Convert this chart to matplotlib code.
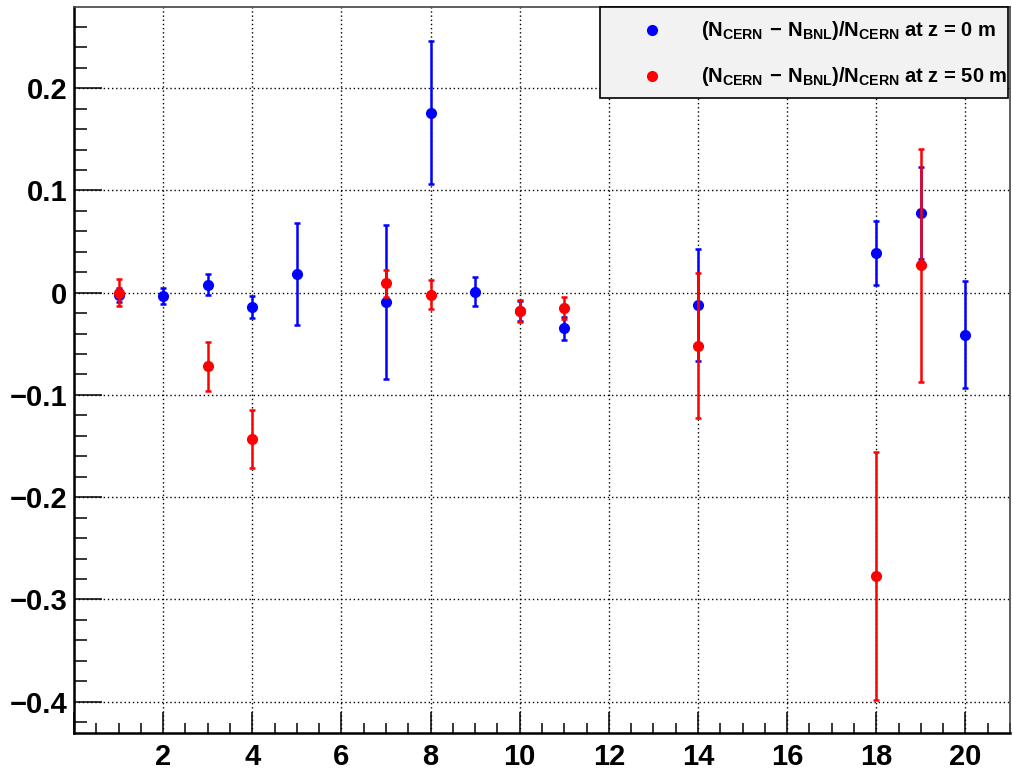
import matplotlib
matplotlib.use("Agg")
import matplotlib.pyplot as plt
from matplotlib.ticker import MultipleLocator
from matplotlib.patches import Rectangle

# ---- data ----
blue_x = [1, 2, 3, 4, 5, 7, 8, 9, 10, 11, 14, 18, 19, 20]
blue_y = [-0.002, -0.003, 0.008, -0.014, 0.018, -0.009, 0.176, 0.001, -0.018, -0.035, -0.012, 0.039, 0.078, -0.041]
blue_err = [0.007, 0.008, 0.010, 0.011, 0.050, 0.075, 0.070, 0.014, 0.010, 0.011, 0.055, 0.031, 0.045, 0.052]

red_x = [1, 3, 4, 7, 8, 10, 11, 14, 18, 19]
red_y = [0.0, -0.072, -0.143, 0.009, -0.002, -0.018, -0.015, -0.052, -0.277, 0.027]
red_err = [0.013, 0.024, 0.028, 0.013, 0.014, 0.011, 0.011, 0.071, 0.121, 0.114]

label_blue = r"$(N_{CERN}\,-\,N_{BNL})/N_{CERN}$ at z = 0 m"
label_red = r"$(N_{CERN}\,-\,N_{BNL})/N_{CERN}$ at z = 50 m"

plt.rcParams["font.family"] = ["Liberation Sans", "DejaVu Sans"]
plt.rcParams["font.weight"] = "bold"
plt.rcParams["mathtext.fontset"] = "custom"
plt.rcParams["mathtext.rm"] = "Liberation Sans:bold"
plt.rcParams["mathtext.it"] = "Liberation Sans:bold"
plt.rcParams["mathtext.bf"] = "Liberation Sans:bold"
plt.rcParams["mathtext.sf"] = "Liberation Sans:bold"

fig = plt.figure(figsize=(10.13, 7.73), dpi=100)
L, R, B, T = 74 / 1013, 1010 / 1013, 1 - 733 / 773, 1 - 7 / 773
ax = fig.add_axes([L, B, R - L, T - B])

ax.set_xlim(0, 21)
ax.set_ylim(-0.4306, 0.2794)

ax.xaxis.set_major_locator(MultipleLocator(2))
ax.xaxis.set_minor_locator(MultipleLocator(0.5))
ax.yaxis.set_major_locator(MultipleLocator(0.1))
ax.yaxis.set_minor_locator(MultipleLocator(0.02))

ax.grid(True, which="major", color="black", linestyle=(0, (1, 2.0)), linewidth=1.0)

ax.tick_params(axis="x", which="major", direction="in", length=15, width=1.1, pad=7,
               labelsize=21, top=False)
ax.tick_params(axis="x", which="minor", direction="in", length=7.2, width=1.1, top=False)
ax.tick_params(axis="y", which="major", direction="in", length=20, width=1.1, pad=5,
               labelsize=21, right=False)
ax.tick_params(axis="y", which="minor", direction="in", length=9.5, width=1.1, right=False)

ax.yaxis.set_major_formatter(matplotlib.ticker.FuncFormatter(
    lambda v, p: "0" if abs(v) < 1e-9 else ("%.1f" % v).replace("-", "\u2212")))
ax.xaxis.set_major_formatter(matplotlib.ticker.FuncFormatter(
    lambda v, p: "" if abs(v) < 1e-9 else "%d" % v))
for lab in ax.get_xticklabels() + ax.get_yticklabels():
    lab.set_fontweight("bold")

for s in ["left", "bottom"]:
    ax.spines[s].set_linewidth(1.8)
    ax.spines[s].set_color("black")
for s in ["top", "right"]:
    ax.spines[s].set_linewidth(1.2)
    ax.spines[s].set_color("#444444")

ax.errorbar(blue_x, blue_y, yerr=blue_err, fmt="o", color="blue", markersize=7,
            elinewidth=1.8, capsize=2.2, capthick=1.8, zorder=3)
ax.errorbar(red_x, red_y, yerr=red_err, fmt="o", color="red", markersize=7,
            elinewidth=1.8, capsize=2.2, capthick=1.8, zorder=4)

# ---- legend box (ROOT style) ----
x0 = (600 - 74) / 936
x1 = (1008 - 74) / 936
y1 = 1.0
y0 = (733 - 98) / 726
rect = Rectangle((x0, y0), x1 - x0, y1 - y0, transform=ax.transAxes,
                 facecolor="#f2f2f2", edgecolor="black", linewidth=1.2, zorder=10,
                 clip_on=False)
ax.add_patch(rect)
mx = (652 - 74) / 936
tx = (701 - 74) / 936
for yy, col, lab in [((733 - 30) / 726, "blue", label_blue),
                     ((733 - 76) / 726, "red", label_red)]:
    ax.plot([mx], [yy], "o", color=col, markersize=7, transform=ax.transAxes,
            zorder=11, clip_on=False)
    ax.text(tx, yy, lab, transform=ax.transAxes, fontsize=14.5, fontweight="bold",
            va="center", ha="left", zorder=12)

fig.savefig("out.png", dpi=100)
